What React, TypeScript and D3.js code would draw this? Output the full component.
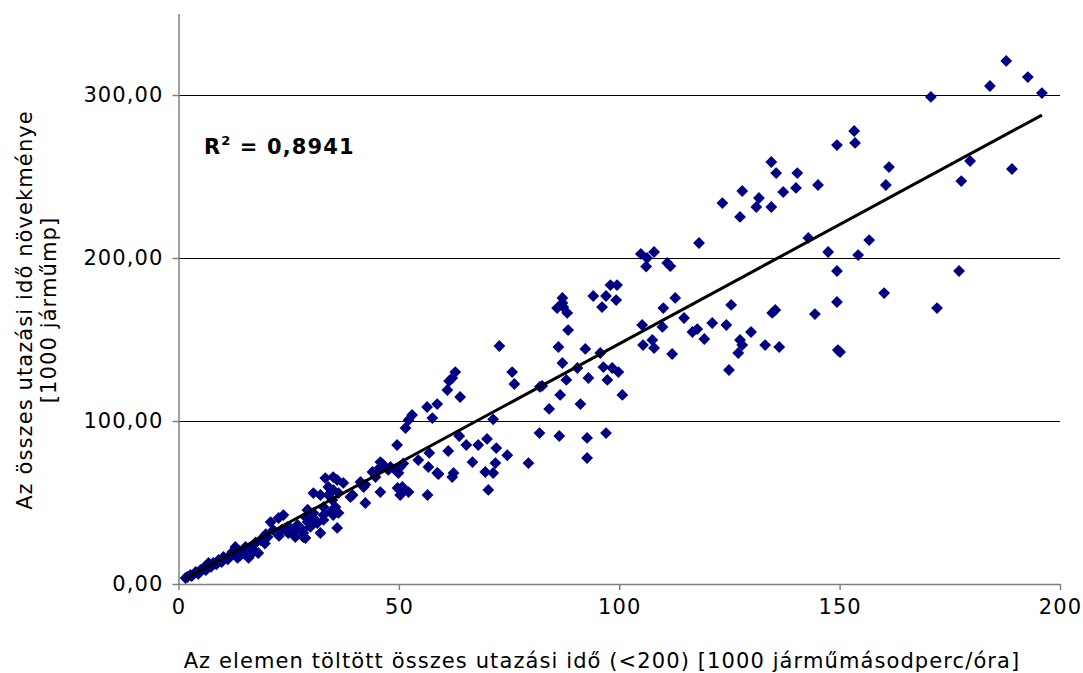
import React, { useEffect, useRef } from 'react';
import * as d3 from 'd3';

// element travel time (<200) [1000 vehicle-seconds/hour]
const xValues = [
  1.6, 2.0, 2.7, 3.0, 3.9, 4.5, 5.0, 5.7, 6.2, 6.8, 7.4, 7.9, 8.6, 9.1, 9.8, 10.2, 11.2, 11.8,
  12.2, 12.9, 13.4, 14.1, 14.6, 15.2, 15.9, 16.3, 16.8, 17.0, 17.5, 18.1, 18.6, 19.6, 19.8, 20.2,
  20.9, 21.5, 22.7, 22.8, 23.5, 23.8, 24.7, 24.9, 25.5, 26.1, 26.5, 27.0, 27.7, 28.1, 28.3, 28.3,
  28.8, 28.8, 29.3, 29.3, 29.9, 30.6, 31.5, 32.2, 32.9, 32.9, 29.3, 30.6, 32.9, 34.5, 35.1, 36.0,
  30.6, 32.2, 34.0, 35.1, 36.3, 39.5, 33.3, 35.1, 34.0, 36.0, 37.4, 34.9, 35.6, 36.3, 39.0, 41.3,
  42.4, 42.0, 42.4, 44.0, 44.7, 45.1, 45.8, 46.5, 47.6, 48.1, 49.2, 50.3, 45.8, 49.7, 50.3, 52.2,
  49.9, 51.0, 54.4, 56.7, 58.7, 56.5, 50.8, 49.6, 51.5, 52.2, 53.0, 56.4, 57.6, 58.7,
  72.8, 75.7, 76.2, 62.8, 62.1, 61.4, 61.0, 63.9, 71.4, 63.7, 65.3, 68.0, 70.0, 72.1, 74.6, 61.2,
  56.9, 59.0, 62.4, 62.1, 66.7, 71.9, 69.6, 71.4, 70.3, 79.4, 82.0, 81.9,
  98.0, 99.5, 94.1, 97.0, 99.3, 96.1, 87.1, 85.9, 87.3, 88.2, 87.1, 88.4, 86.2, 92.3, 95.7, 87.1,
  90.5, 88.0, 93.0, 97.3, 96.4, 98.4, 99.8, 82.5, 86.6, 91.2, 84.1, 100.7, 105.2, 110.0, 112.7,
  109.8, 105.4, 107.5, 107.9, 112.0, 86.4, 92.7, 97.0, 92.7,
  104.9, 106.3, 107.9, 106.1, 110.9, 111.6,
  118.1, 142.9, 125.4, 135.4, 134.7, 144.4, 114.7, 121.1, 124.3, 116.6, 117.7, 119.3, 129.9, 127.4,
  127.9, 127.0, 133.1, 136.3, 124.9,
  134.5, 135.6, 140.4, 127.9, 131.7, 131.1, 134.5, 137.2, 140.1, 123.4, 127.4, 145.1,
  149.4, 153.5, 153.3, 161.2, 160.5, 147.4, 154.2, 156.7, 149.4, 160.1, 149.4, 172.1, 150.1, 149.6,
  170.7, 184.1, 187.8, 192.7, 195.9, 179.6, 177.6, 189.1, 177.1,
];

// total travel time increment [1000 vehicle-min]
const yValues = [
  3.7, 4.3, 5.5, 4.8, 7.4, 6.2, 8.6, 9.8, 8.5, 12.9, 10.6, 12.9, 12.0, 14.7, 13.5, 16.6, 15.2, 18.0,
  19.6, 22.7, 16.0, 17.8, 19.5, 22.7, 16.0, 17.8, 21.0, 23.9, 25.5, 19.0, 27.0, 24.8, 30.5, 28.8,
  38.0, 33.1, 40.5, 29.5, 33.5, 42.3, 35.0, 31.3, 34.0, 31.9, 28.8, 36.2, 34.4, 33.1, 28.8, 31.3,
  28.2, 41.1, 38.0, 45.4, 35.0, 43.6, 37.4, 31.3, 47.2, 39.3, 45.4, 40.5, 42.3, 44.2, 42.3, 34.4,
  55.8, 54.6, 54.6, 57.7, 55.8, 54.6, 65.0, 65.6, 59.5, 63.8, 62.0, 51.5, 47.2, 43.6, 53.4, 62.6,
  61.0, 59.5, 49.7, 68.7, 65.6, 69.9, 74.8, 73.0, 70.0, 71.8, 69.9, 71.8, 56.4, 58.9, 54.6, 56.4,
  68.1, 74.0, 76.0, 71.8, 68.1, 54.6, 59.5, 85.3, 95.7, 100.6, 103.7, 108.6, 101.8, 110.4,
  146.0, 130.0, 122.7, 130.0, 126.4, 124.5, 119.0, 114.7, 101.0, 90.8, 85.3, 85.3, 89.0, 83.4, 79.0, 81.6,
  80.4, 67.5, 68.1, 65.6, 74.8, 74.2, 68.7, 68.1, 57.7, 74.2, 121.0, 92.6,
  183.4, 183.4, 176.7, 176.7, 174.2, 169.9, 175.5, 169.3, 169.9, 166.3, 172.4, 155.8, 145.4, 144.2, 141.7, 135.6,
  132.5, 125.2, 126.4, 125.2, 133.1, 132.5, 130.0, 121.5, 116.0, 110.4, 107.4, 116.0, 158.9, 169.3, 175.5,
  157.7, 146.6, 149.7, 144.8, 141.1, 90.8, 89.6, 92.6, 77.3,
  202.5, 200.0, 203.7, 194.8, 197.0, 195.0,
  209.2, 212.3, 171.2, 168.1, 166.3, 165.6, 163.2, 160.1, 158.9, 154.6, 156.4, 150.3, 154.6, 149.7,
  146.6, 141.7, 146.6, 145.4, 131.3,
  258.9, 252.1, 252.1, 241.1, 236.8, 231.3, 231.3, 240.5, 243.0, 233.7, 225.2, 244.8,
  269.3, 270.6, 277.9, 255.8, 244.8, 203.7, 201.8, 211.0, 192.0, 178.5, 173.0, 169.3, 142.3, 143.5,
  298.8, 305.5, 320.9, 311.0, 301.2, 259.5, 247.2, 254.6, 192.0,
];

const xTicks = [0, 50, 100, 150, 200];
const yTicks = [0, 100, 200, 300];

// linear trendline as shown in the chart
const trendSlope = 1.463;
const trendIntercept = 1.07;
const rSquaredLabel = '0,8941';

const font = '"DejaVu Sans", Verdana, sans-serif';
const fontSize = '21px';
const spacing = '1.1px';

const App = () => {
  const svgRef = useRef<SVGSVGElement>(null);

  useEffect(() => {
    const svg = d3.select(svgRef.current);
    svg.selectAll('*').remove();

    const width = 1083;
    const height = 673;
    const margin = { top: 13.5, right: 23, bottom: 89, left: 178.5 };

    const x = d3.scaleLinear().domain([0, 200]).range([margin.left, width - margin.right]);
    const y = d3.scaleLinear().domain([0, 350]).range([height - margin.bottom, margin.top]);

    const locale = d3.formatLocale({ decimal: ',', thousands: ' ', grouping: [3], currency: ['', ''] });
    const yFmt = locale.format('.2f');

    // gridlines
    svg.append('g')
      .selectAll('line')
      .data(yTicks.filter(d => d > 0))
      .enter().append('line')
      .attr('x1', x(0))
      .attr('x2', x(200))
      .attr('y1', d => Math.round(y(d)) + 0.5)
      .attr('y2', d => Math.round(y(d)) + 0.5)
      .attr('stroke', '#000')
      .attr('stroke-width', 1);

    const yAxis = svg.append('g')
      .attr('transform', `translate(${x(0)},0)`)
      .call(d3.axisLeft(y).tickValues(yTicks).tickFormat(d => yFmt(d as number)).tickSize(6).tickSizeOuter(0).tickPadding(9));

    const xAxis = svg.append('g')
      .attr('transform', `translate(0,${y(0)})`)
      .call(d3.axisBottom(x).tickValues(xTicks).tickFormat(d3.format('d')).tickSize(6).tickSizeOuter(0).tickPadding(9));

    [xAxis, yAxis].forEach(ax => {
      ax.select('.domain').attr('stroke', '#808080').attr('stroke-width', 1.5);
      ax.selectAll('.tick line').attr('stroke', '#808080').attr('stroke-width', 1.5);
      ax.selectAll('.tick text')
        .attr('font-family', font)
        .attr('font-size', fontSize)
        .attr('letter-spacing', spacing)
        .attr('fill', '#000');
    });

    // points
    const diamond = d3.symbol().type(d3.symbolSquare).size(70);
    svg.append('g')
      .selectAll('path')
      .data(xValues.map((v, i) => [v, yValues[i]]))
      .enter().append('path')
      .attr('d', diamond)
      .attr('transform', d => `translate(${x(d[0])},${y(d[1])}) rotate(45)`)
      .attr('fill', '#000080');

    // trendline
    const xMin = d3.min(xValues) as number;
    const xMax = d3.max(xValues) as number;
    const line = d3.line<number>()
      .x(d => x(d))
      .y(d => y(trendSlope * d + trendIntercept));
    svg.append('path')
      .datum([xMin, xMax])
      .attr('d', line)
      .attr('fill', 'none')
      .attr('stroke', '#000')
      .attr('stroke-width', 3);

    // R² label
    const r2 = svg.append('text')
      .attr('x', 204)
      .attr('y', 154)
      .attr('font-family', font)
      .attr('font-size', fontSize)
      .attr('letter-spacing', spacing)
      .attr('font-weight', 'bold');
    r2.append('tspan').text('R');
    r2.append('tspan').attr('font-size', '13px').attr('dy', -9).text('2');
    r2.append('tspan').attr('dy', 9).text(` = ${rSquaredLabel}`);

    // axis titles
    svg.append('text')
      .attr('x', 602)
      .attr('y', 668)
      .attr('text-anchor', 'middle')
      .attr('font-family', font)
      .attr('font-size', fontSize)
      .attr('letter-spacing', spacing)
      .text('Az elemen töltött összes utazási idő (<200) [1000 járműmásodperc/óra]');

    const yTitle = svg.append('text')
      .attr('transform', 'translate(0,310) rotate(-90)')
      .attr('text-anchor', 'middle')
      .attr('font-family', font)
      .attr('font-size', fontSize)
      .attr('letter-spacing', spacing);
    yTitle.append('tspan').attr('x', 0).attr('y', 32).text('Az összes utazási idő növekménye');
    yTitle.append('tspan').attr('x', 0).attr('y', 56).text('[1000 járműmp]');
  }, []);

  return (
    <svg
      ref={svgRef}
      width={1083}
      height={673}
      style={{ position: 'absolute', left: 0, top: 0, background: '#fff' }}
    />
  );
};

export default App;
